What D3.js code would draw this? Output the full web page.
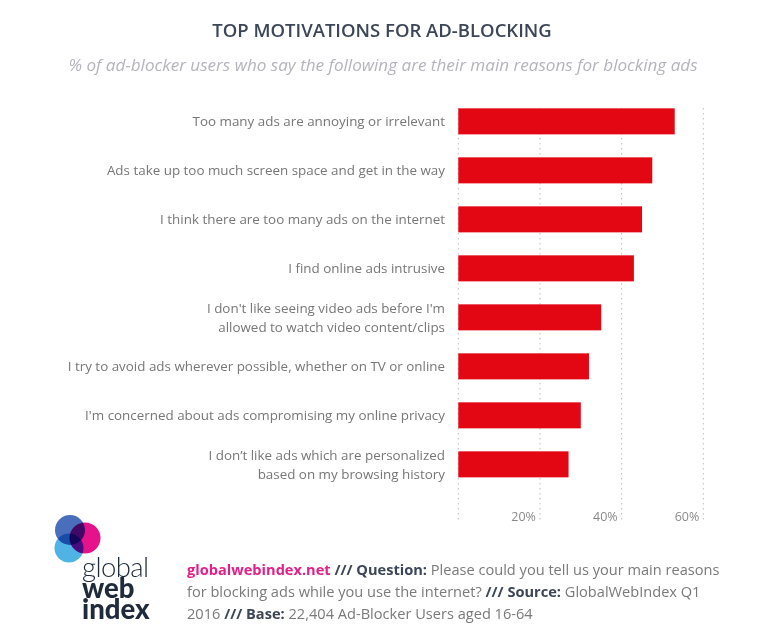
<!DOCTYPE html>
<html><head><meta charset="utf-8">
<script src="https://cdn.jsdelivr.net/npm/d3@7"></script>
<style>body{margin:0;background:#fff}svg{display:block}</style>
</head><body>
<svg id="c" width="765" height="634"></svg>
<script>
const categories = [
  ["Too many ads are annoying or irrelevant"],
  ["Ads take up too much screen space and get in the way"],
  ["I think there are too many ads on the internet"],
  ["I find online ads intrusive"],
  ["I don't like seeing video ads before I'm", "allowed to watch video content/clips"],
  ["I try to avoid ads wherever possible, whether on TV or online"],
  ["I'm concerned about ads compromising my online privacy"],
  ["I don’t like ads which are personalized", "based on my browsing history"]
];
const values = [53, 47.5, 45, 43, 35, 32, 30, 27];
const tickValues = [0, 20, 40, 60];
const tickLabels = ["", "20%", "40%", "60%"];

const svg = d3.select("#c");
const x = d3.scaleLinear().domain([0, 60]).range([458.3, 703.3]);
const y = d3.scaleBand().domain(d3.range(values.length)).range([91.2, 494.5]).paddingInner(0.469).paddingOuter(0.35);

// title
svg.append("text").attr("x", 382).attr("y", 36.5).attr("text-anchor", "middle")
  .attr("font-family", "Open Sans").attr("font-weight", 600).attr("font-size", 18.5)
  .attr("fill", "#3c4656").text("TOP MOTIVATIONS FOR AD-BLOCKING");
svg.append("text").attr("x", 383).attr("y", 71).attr("text-anchor", "middle")
  .attr("font-family", "Open Sans").attr("font-style", "italic").attr("font-size", 17.1)
  .attr("fill", "#b4b4bc").text("% of ad-blocker users who say the following are their main reasons for blocking ads");

// gridlines
svg.append("g").selectAll("line").data(tickValues).join("line")
  .attr("x1", d => x(d)).attr("x2", d => x(d))
  .attr("y1", 108).attr("y2", 521)
  .attr("stroke", "#bdbdbd").attr("stroke-width", 1).attr("stroke-dasharray", "1.5,3.5");

// tick labels
svg.append("g").selectAll("text").data(tickValues).join("text")
  .attr("x", d => x(d) - 4).attr("y", 521).attr("text-anchor", "end")
  .attr("font-family", "Open Sans").attr("font-size", 12.5).attr("fill", "#8a8a8a")
  .text((d, i) => tickLabels[i]);

// bars
svg.append("g").selectAll("rect").data(values).join("rect")
  .attr("x", x(0)).attr("y", (d, i) => y(i))
  .attr("width", d => x(d) - x(0)).attr("height", y.bandwidth())
  .attr("fill", "#e30613");

// category labels
const lab = svg.append("g").selectAll("text").data(categories).join("text")
  .attr("text-anchor", "end").attr("font-family", "Open Sans").attr("font-size", 13.4)
  .attr("fill", "#777777");
lab.each(function(lines, i) {
  const cy = y(i) + y.bandwidth() / 2;
  const lh = 19.5;
  const t = d3.select(this);
  lines.forEach((l, j) => {
    t.append("tspan").attr("x", 445)
      .attr("y", cy + (j - (lines.length - 1) / 2) * lh + 5).text(l);
  });
});

// logo
const logo = svg.append("g");
logo.append("circle").attr("cx", 69).attr("cy", 548).attr("r", 14.5).attr("fill", "#4fb3e6");
logo.append("circle").attr("cx", 85).attr("cy", 538).attr("r", 15.5).attr("fill", "#e5128c").style("mix-blend-mode", "multiply");
logo.append("circle").attr("cx", 70).attr("cy", 530).attr("r", 15).attr("fill", "#3f66b8").style("mix-blend-mode", "multiply").attr("opacity", 0.95);
const lt = logo.append("text").attr("font-family", "Lato").attr("font-size", 27.5).attr("fill", "#1f2b3a");
lt.append("tspan").attr("x", 82).attr("y", 577).attr("font-weight", 300).attr("letter-spacing", -0.6).text("global");
lt.append("tspan").attr("x", 82).attr("y", 598).attr("font-weight", 900).attr("letter-spacing", 0).text("web");
lt.append("tspan").attr("x", 82).attr("y", 619).attr("font-weight", 900).attr("letter-spacing", 0).text("index");

// footer
const footer = [
  [["globalwebindex.net", "#e0218a", 700], [" /// Question:", "#3c4656", 700], [" Please could you tell us your main reasons", "#7a7a7a", 400]],
  [["for blocking ads while you use the internet?", "#7a7a7a", 400], [" /// Source:", "#3c4656", 700], [" GlobalWebIndex Q1", "#7a7a7a", 400]],
  [["2016", "#7a7a7a", 400], [" /// Base:", "#3c4656", 700], [" 22,404 Ad-Blocker Users aged 16-64", "#7a7a7a", 400]]
];
const ft = svg.append("g").selectAll("text").data(footer).join("text")
  .attr("x", 187).attr("y", (d, i) => 575 + i * 22)
  .attr("font-family", "Open Sans").attr("font-size", 14.6)
  .style("white-space", "pre");
ft.each(function(parts) {
  const t = d3.select(this);
  parts.forEach(p => t.append("tspan").attr("fill", p[1]).attr("font-weight", p[2]).text(p[0]));
});
</script>
</body></html>
